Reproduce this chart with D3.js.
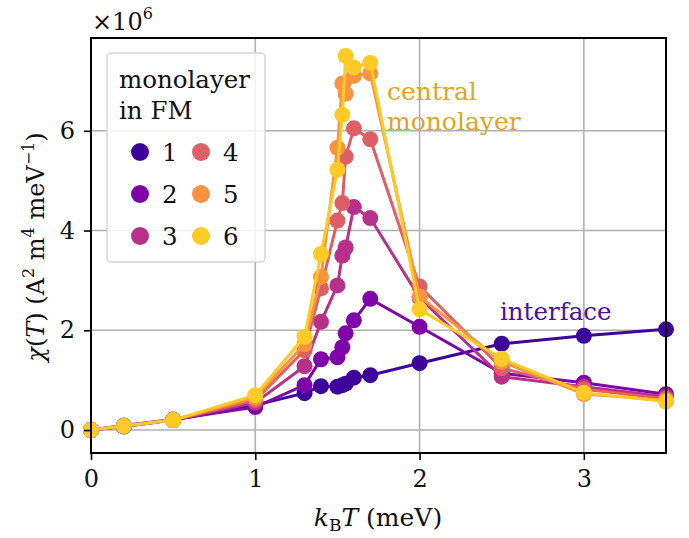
<!DOCTYPE html>
<html>
<head>
<meta charset="utf-8">
<script src="https://cdn.jsdelivr.net/npm/d3@7"></script>
<style>
  body { margin: 0; background: #fff; }
  svg text { font-family: "DejaVu Serif", "Liberation Serif", serif; }
</style>
</head>
<body>
<script>
// data (values in units of 1e6)
const temps = [0, 0.2, 0.5, 1.0, 1.3, 1.4, 1.5, 1.53, 1.55, 1.6, 1.7, 2.0, 2.5, 3.0, 3.5]
const layer1 = [0, 0.07, 0.2, 0.5, 0.74, 0.88, 0.87, 0.9, 0.93, 1.05, 1.1, 1.34, 1.73, 1.89, 2.02]
const layer2 = [0, 0.09, 0.21, 0.46, 0.9, 1.42, 1.46, 1.66, 1.94, 2.2, 2.63, 2.07, 1.14, 0.95, 0.72]
const layer3 = [0, 0.08, 0.2, 0.55, 1.28, 2.17, 2.9, 3.5, 3.66, 4.47, 4.25, 2.65, 1.07, 0.87, 0.67]
const layer4 = [0, 0.08, 0.2, 0.6, 1.6, 2.84, 4.2, 4.55, 5.48, 6.05, 5.83, 2.88, 1.24, 0.82, 0.63]
const layer5 = [0, 0.08, 0.2, 0.65, 1.72, 3.07, 5.66, 6.95, 6.74, 7.1, 7.15, 2.68, 1.37, 0.72, 0.6]
const layer6 = [0, 0.08, 0.2, 0.7, 1.87, 3.53, 5.22, 6.32, 7.5, 7.27, 7.36, 2.42, 1.43, 0.75, 0.57]
const layerNames = ["1", "2", "3", "4", "5", "6"]
const layerColors = ["#3d049b", "#7e03a8", "#b7318a", "#de5f65", "#f89441", "#fdca26"]
const xTicks = [0, 1, 2, 3]
const yTicks = [0, 2, 4, 6]

const allLayers = [layer1, layer2, layer3, layer4, layer5, layer6]

const W = 689, H = 538
const pLeft = 91, pRight = 666, pTop = 38, pBottom = 453
const FONT = "'DejaVu Serif', serif"

const svg = d3.select("body").append("svg")
    .attr("width", W)
    .attr("height", H)
    .attr("font-family", FONT)

const x = d3.scaleLinear().domain([0, 3.5]).range([pLeft, pRight])
const y = d3.scaleLinear().domain([-0.46, 7.86]).range([pBottom, pTop])

// grid
svg.append("g").selectAll("line").data(xTicks).enter().append("line")
    .attr("x1", d => x(d)).attr("x2", d => x(d))
    .attr("y1", pTop).attr("y2", pBottom)
    .attr("stroke", "#b0b0b0").attr("stroke-width", 1.6)
svg.append("g").selectAll("line").data(yTicks).enter().append("line")
    .attr("x1", pLeft).attr("x2", pRight)
    .attr("y1", d => y(d)).attr("y2", d => y(d))
    .attr("stroke", "#b0b0b0").attr("stroke-width", 1.6)

// series
const plot = svg.append("g")
const line = d3.line().x((d, i) => x(temps[i])).y(d => y(d))
allLayers.forEach((vals, k) => {
    let g = plot.append("g")
    g.append("path")
        .attr("d", line(vals))
        .attr("fill", "none")
        .attr("stroke", layerColors[k])
        .attr("stroke-width", 3)
    g.selectAll("circle").data(vals).enter().append("circle")
        .attr("cx", (d, i) => x(temps[i]))
        .attr("cy", d => y(d))
        .attr("r", 8)
        .attr("fill", layerColors[k])
})

// axes
const xAxis = svg.append("g")
    .attr("transform", "translate(0," + pBottom + ")")
    .call(d3.axisBottom(x).tickValues(xTicks).tickSize(7).tickPadding(10).tickFormat(d3.format("d")))
const yAxis = svg.append("g")
    .attr("transform", "translate(" + pLeft + ",0)")
    .call(d3.axisLeft(y).tickValues(yTicks).tickSize(7).tickPadding(9).tickFormat(d3.format("d")))
;[xAxis, yAxis].forEach(a => {
    a.attr("font-family", FONT)
    a.select(".domain").remove()
    a.selectAll("line").attr("stroke", "#000").attr("stroke-width", 1.6)
    a.selectAll("text").attr("font-size", 24).attr("fill", "#111")
})

// frame
svg.append("rect")
    .attr("x", pLeft).attr("y", pTop)
    .attr("width", pRight - pLeft).attr("height", pBottom - pTop)
    .attr("fill", "none").attr("stroke", "#000").attr("stroke-width", 2)

// offset text
let offs = svg.append("text").attr("x", 92).attr("y", 30).attr("font-size", 24).attr("fill", "#111")
offs.append("tspan").text("\u00d710")
offs.append("tspan").attr("dy", -11).attr("font-size", 16).text("6")

// x label
let xl = svg.append("text").attr("x", 378).attr("y", 526).attr("text-anchor", "middle")
    .attr("font-size", 25).attr("fill", "#111")
xl.append("tspan").attr("font-style", "italic").text("k")
xl.append("tspan").attr("dy", 5).attr("font-size", 17).text("B")
xl.append("tspan").attr("dy", -5).attr("font-style", "italic").text("T")
xl.append("tspan").text(" (meV)")

// y label
let yl = svg.append("text").attr("transform", "translate(44,247) rotate(-90)")
    .attr("text-anchor", "middle").attr("font-size", 24).attr("fill", "#111")
yl.append("tspan").attr("font-style", "italic").text("\u03c7")
yl.append("tspan").text("(")
yl.append("tspan").attr("font-style", "italic").text("T")
yl.append("tspan").text(") (A")
yl.append("tspan").attr("dy", -10).attr("font-size", 16).text("2")
yl.append("tspan").attr("dy", 10).text(" m")
yl.append("tspan").attr("dy", -10).attr("font-size", 16).text("4")
yl.append("tspan").attr("dy", 10).text(" meV")
yl.append("tspan").attr("dy", -10).attr("font-size", 16).text("\u22121")
yl.append("tspan").attr("dy", 10).text(")")

// annotations
svg.append("text").attr("x", 387).attr("y", 100).attr("font-size", 25).attr("fill", "#dba628").text("central")
svg.append("text").attr("x", 387).attr("y", 130).attr("font-size", 25).attr("fill", "#dba628").text("monolayer")
svg.append("text").attr("x", 500).attr("y", 320).attr("font-size", 24.5).attr("fill", "#4a0fa3").text("interface")

// legend
const leg = svg.append("g")
leg.append("rect")
    .attr("x", 107).attr("y", 53).attr("width", 158).attr("height", 209).attr("rx", 4)
    .attr("fill", "#fff").attr("fill-opacity", 0.85)
    .attr("stroke", "#d5d5d5").attr("stroke-width", 1.5)
leg.append("text").attr("x", 119).attr("y", 88).attr("font-size", 24.5).attr("fill", "#111").text("monolayer")
leg.append("text").attr("x", 119).attr("y", 119).attr("font-size", 24.5).attr("fill", "#111").text("in FM")
const items = leg.selectAll("g.item").data(layerNames).enter().append("g").attr("class", "item")
    .attr("transform", (d, i) => "translate(" + (140 + Math.floor(i / 3) * 61) + "," + (152 + (i % 3) * 42) + ")")
items.append("circle").attr("r", 9).attr("fill", (d, i) => layerColors[i])
items.append("text").attr("x", 22).attr("y", 9).attr("font-size", 24.5).attr("fill", "#111").text(d => d)
</script>
</body>
</html>
